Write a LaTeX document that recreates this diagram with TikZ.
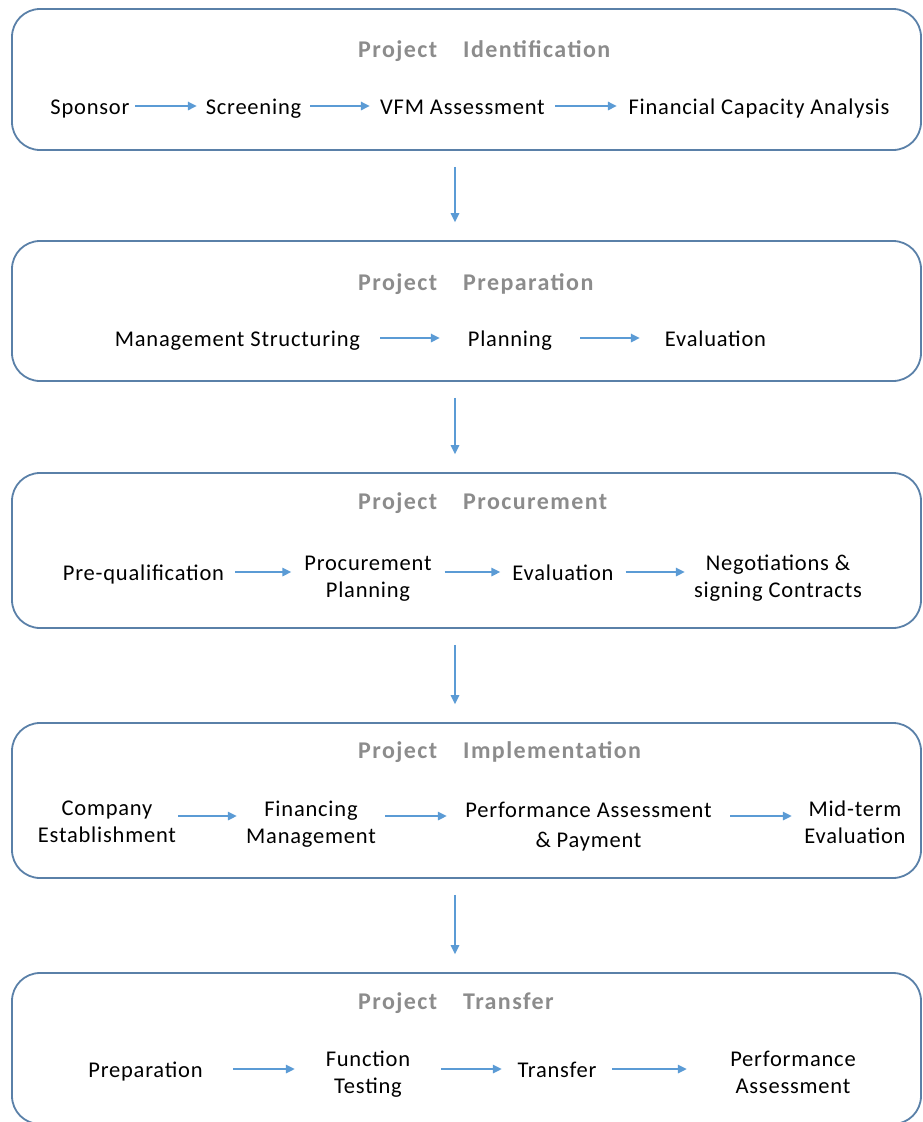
\documentclass[tikz,border=0pt]{standalone}
\usepackage{fontspec}
\setmainfont{Carlito}
\newfontfamily\bodyfont[LetterSpace=3.5]{Carlito}
\newfontfamily\titlefont[LetterSpace=6]{Carlito}
\usetikzlibrary{arrows.meta,calc}
\definecolor{boxc}{HTML}{5A80A8}
\definecolor{arrc}{HTML}{5B9BD5}
\definecolor{titc}{HTML}{8C8C8C}
\tikzset{
  x=1pt,y=-1pt,
  phase/.style={draw=boxc,line width=1.8pt,rounded corners=28pt,inner sep=0pt},
  ttl/.style={anchor=base west,inner sep=0pt,text=titc,font=\titlefont\fontsize{24}{28}\selectfont\bfseries},
  item/.style={inner sep=0pt,align=center,text height=20pt,text depth=3pt,font=\bodyfont\fontsize{22.5}{27}\selectfont},
  itemii/.style={inner sep=0pt,align=center,font=\bodyfont\fontsize{22.5}{27}\selectfont,
    execute at begin node={\rule{0pt}{17pt}},execute at end node={\rule[-6pt]{0pt}{6pt}}},
  flow/.style={draw=arrc,line width=1.6pt,-{Triangle[length=9pt,width=8.5pt]}},
  down/.style={draw=arrc,line width=1.6pt,-{Triangle[length=9pt,width=8.5pt]},shorten <=16pt,shorten >=18pt},
}
\begin{document}
\begin{tikzpicture}
\useasboundingbox (0,0) rectangle (923,1122);
% phase boxes
\node[phase,minimum width=909pt,minimum height=141pt] (b1) at (466.5,79.5) {};
\node[phase,minimum width=909pt,minimum height=140pt] (b2) at (466.5,311) {};
\node[phase,minimum width=909pt,minimum height=155pt] (b3) at (466.5,550.5) {};
\node[phase,minimum width=909pt,minimum height=155pt] (b4) at (466.5,800.5) {};
\node[phase,minimum width=909pt,minimum height=151pt] (b5) at (466.5,1048.5) {};
% titles
\node[ttl] (t1) at (358,57) {\makebox[105pt][l]{Project}Identification};
\node[ttl] (t2) at (358,290) {\makebox[105pt][l]{Project}Preparation};
\node[ttl] (t3) at (358,509) {\makebox[105pt][l]{Project}Procurement};
\node[ttl] (t4) at (358,758) {\makebox[105pt][l]{Project}Implementation};
\node[ttl] (t5) at (358,1009) {\makebox[105pt][l]{Project}Transfer};
% row 1
\node[item,minimum width=90pt] (a1) at (90,106) {Sponsor};
\node[item,minimum width=113pt] (a2) at (253.5,106) {Screening};
\node[item,minimum width=185pt] (a3) at (462.5,106) {VFM Assessment};
\node[item,minimum width=284pt] (a4) at (759,106) {Financial Capacity Analysis};
\draw[flow] (a1) -- (a2);
\draw[flow] (a2) -- (a3);
\draw[flow] (a3) -- (a4);
% row 2
\node[item,minimum width=285pt] (p1) at (237.5,338) {Management Structuring};
\node[item,minimum width=140pt] (p2) at (510,338) {Planning};
\node[item,minimum width=151pt] (p3) at (715.5,338) {Evaluation};
\draw[flow] (p1) -- (p2);
\draw[flow] (p2) -- (p3);
% row 3
\node[item,minimum width=183pt] (q1) at (143.5,572) {Pre-qualification};
\node[itemii,minimum width=153pt] (q2) at (368,579.5) {Procurement\\Planning};
\node[item,minimum width=125pt] (q3) at (563,572) {Evaluation};
\node[itemii,minimum width=186pt] (q4) at (778,579.5) {Negotiations \&\\signing Contracts};
\draw[flow] (q1.east) -- (q2.west |- q1.east);
\draw[flow] (q2.east |- q3.west) -- (q3.west);
\draw[flow] (q3.east) -- (q4.west |- q3.east);
% row 4
\node[itemii,minimum width=142pt] (m1) at (107,825) {Company\\Establishment};
\node[itemii,minimum width=148pt] (m2) at (311,825) {Financing\\Management};
\node[itemii,minimum width=283pt] (m3) at (588.5,828) {Performance Assessment\\[3pt]\& Payment};
\node[itemii,minimum width=126pt] (m4) at (855,825) {Mid-term\\Evaluation};
\draw[flow] ($(m1.east)+(0,-9)$) -- ($(m2.west)+(0,-9)$);
\draw[flow] ($(m2.east)+(0,-9)$) -- ($(m3.west |- m2.east)+(0,-9)$);
\draw[flow] ($(m3.east |- m4.west)+(0,-9)$) -- ($(m4.west)+(0,-9)$);
% row 5
\node[item,minimum width=175pt] (r1) at (145.5,1069) {Preparation};
\node[itemii,minimum width=146pt] (r2) at (368,1075.5) {Function\\Testing};
\node[item,minimum width=110pt] (r3) at (557,1069) {Transfer};
\node[itemii,minimum width=212pt] (r4) at (793,1075.5) {Performance\\Assessment};
\draw[flow] (r1.east) -- (r2.west |- r1.east);
\draw[flow] (r2.east |- r3.west) -- (r3.west);
\draw[flow] (r3.east) -- (r4.west |- r3.east);
% phase arrows
\draw[down] ([xshift=-11.5pt]b1.south) -- ([xshift=-11.5pt]b2.north);
\draw[down] ([xshift=-11.5pt]b2.south) -- ([xshift=-11.5pt]b3.north);
\draw[down] ([xshift=-11.5pt]b3.south) -- ([xshift=-11.5pt]b4.north);
\draw[down] ([xshift=-11.5pt]b4.south) -- ([xshift=-11.5pt]b5.north);
\end{tikzpicture}
\end{document}
